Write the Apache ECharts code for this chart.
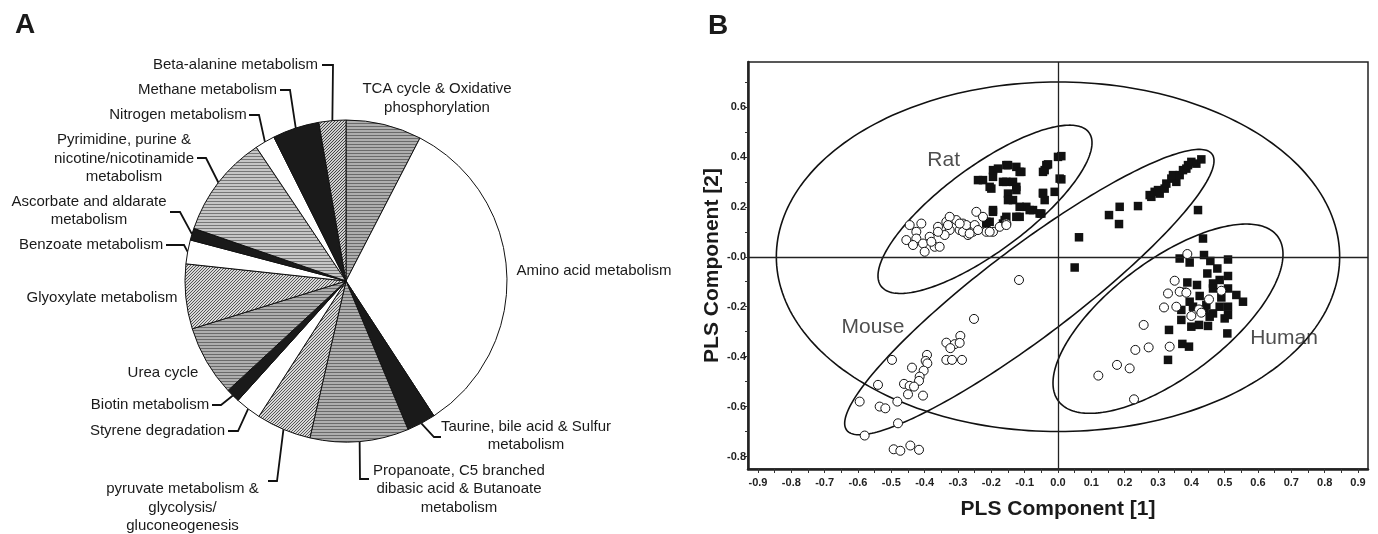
<!DOCTYPE html>
<html><head><meta charset="utf-8">
<script src="https://cdn.jsdelivr.net/npm/echarts@6/dist/echarts.min.js"></script>
<style>html,body{margin:0;padding:0;background:#fff}#c{width:1378px;height:534px}</style>
</head><body><div id="c"></div>
<script>
// ---------- Panel A: pie data (percent of pathways) ----------
const pieCategories = [
  'TCA cycle & Oxidative\nphosphorylation',
  'Amino acid metabolism',
  'Taurine, bile acid & Sulfur\nmetabolism',
  'Propanoate, C5 branched\ndibasic acid & Butanoate\nmetabolism',
  'pyruvate metabolism &\nglycolysis/\ngluconeogenesis',
  'Styrene degradation',
  'Biotin metabolism',
  'Urea cycle',
  'Glyoxylate metabolism',
  'Benzoate metabolism',
  'Ascorbate and aldarate\nmetabolism',
  'Pyrimidine, purine &\nnicotine/nicotinamide\nmetabolism',
  'Nitrogen metabolism',
  'Methane metabolism',
  'Beta-alanine metabolism'
];
const pieValues = [7.6, 33.2, 2.9, 9.9, 5.5, 2.6, 1.4, 7.1, 6.5, 2.4, 1.2, 10.3, 2.0, 4.7, 2.7];
const pieFills = ['hlines','white','black','hlines','hatch','white','black','hlines','hatch','white','black','hlines2','white','black','hatch2'];

// ---------- Panel B: PLS scores ----------
const ratOpen = [[-0.445,0.127],[-0.41,0.133],[-0.425,0.10],[-0.455,0.067],[-0.425,0.073],[-0.405,0.053],[-0.385,0.08],[-0.37,0.04],[-0.355,0.04],[-0.40,0.02],[-0.36,0.12],[-0.335,0.14],[-0.325,0.107],[-0.34,0.087],[-0.305,0.147],[-0.285,0.133],[-0.295,0.107],[-0.265,0.12],[-0.255,0.10],[-0.27,0.087],[-0.245,0.18],[-0.225,0.16],[-0.215,0.10],[-0.195,0.10],[-0.175,0.12],[-0.155,0.133],[-0.36,0.10],[-0.325,0.16],[-0.38,0.06],[-0.435,0.047],[-0.285,0.10],[-0.275,0.127],[-0.25,0.127],[-0.24,0.107],[-0.33,0.127],[-0.295,0.133],[-0.265,0.093],[-0.155,0.127],[-0.205,0.10]];
const mouseOpen = [[-0.117,-0.093],[-0.252,-0.249],[-0.335,-0.344],[-0.293,-0.317],[-0.31,-0.35],[-0.295,-0.345],[-0.323,-0.366],[-0.335,-0.413],[-0.318,-0.413],[-0.288,-0.413],[-0.393,-0.393],[-0.397,-0.417],[-0.392,-0.427],[-0.438,-0.444],[-0.403,-0.456],[-0.415,-0.48],[-0.417,-0.497],[-0.498,-0.413],[-0.54,-0.513],[-0.462,-0.509],[-0.445,-0.517],[-0.432,-0.52],[-0.45,-0.551],[-0.405,-0.556],[-0.482,-0.58],[-0.595,-0.58],[-0.535,-0.60],[-0.518,-0.607],[-0.48,-0.667],[-0.58,-0.716],[-0.493,-0.771],[-0.473,-0.777],[-0.443,-0.756],[-0.417,-0.773]];
const humanOpen = [[0.388,0.011],[0.35,-0.096],[0.33,-0.147],[0.365,-0.14],[0.385,-0.144],[0.318,-0.203],[0.355,-0.20],[0.40,-0.237],[0.423,-0.211],[0.43,-0.224],[0.453,-0.171],[0.49,-0.136],[0.257,-0.273],[0.232,-0.373],[0.272,-0.363],[0.335,-0.36],[0.177,-0.433],[0.215,-0.447],[0.121,-0.476],[0.228,-0.571]];
const ratFilled = [[-0.225,0.307],[-0.24,0.307],[-0.195,0.32],[-0.195,0.347],[-0.18,0.353],[-0.155,0.367],[-0.15,0.367],[-0.125,0.36],[-0.115,0.34],[-0.11,0.34],[-0.165,0.30],[-0.155,0.30],[-0.205,0.28],[-0.2,0.273],[-0.135,0.30],[-0.125,0.28],[-0.125,0.267],[-0.15,0.253],[-0.135,0.227],[-0.15,0.227],[-0.095,0.20],[-0.115,0.20],[-0.075,0.187],[-0.085,0.187],[-0.055,0.173],[-0.115,0.16],[-0.125,0.16],[-0.155,0.16],[-0.16,0.147],[-0.195,0.18],[-0.195,0.187],[-0.205,0.14],[-0.215,0.133],[-0.215,0.14],[-0.165,0.133],[-0.035,0.367],[-0.04,0.347],[-0.045,0.253],[-0.04,0.227],[0.0,0.40],[0.01,0.403],[0.005,0.313],[0.01,0.31],[-0.01,0.26],[-0.03,0.37],[-0.045,0.34],[-0.045,0.256],[-0.05,0.173]];
const mouseFilled = [[0.063,0.078],[0.153,0.167],[0.185,0.20],[0.183,0.131],[0.24,0.203],[0.275,0.247],[0.28,0.24],[0.29,0.26],[0.30,0.267],[0.305,0.253],[0.32,0.273],[0.325,0.293],[0.34,0.313],[0.355,0.30],[0.345,0.327],[0.365,0.327],[0.375,0.347],[0.385,0.353],[0.39,0.367],[0.40,0.38],[0.415,0.373],[0.43,0.39],[0.42,0.187],[0.435,0.073],[0.05,-0.043]];
const humanFilled = [[0.365,-0.007],[0.395,-0.023],[0.438,0.007],[0.457,-0.017],[0.51,-0.011],[0.448,-0.067],[0.478,-0.047],[0.51,-0.077],[0.485,-0.093],[0.465,-0.107],[0.388,-0.103],[0.417,-0.113],[0.373,-0.14],[0.465,-0.127],[0.51,-0.127],[0.535,-0.153],[0.555,-0.18],[0.425,-0.157],[0.395,-0.18],[0.37,-0.213],[0.37,-0.253],[0.40,-0.28],[0.423,-0.273],[0.45,-0.277],[0.465,-0.227],[0.445,-0.193],[0.485,-0.20],[0.51,-0.20],[0.50,-0.247],[0.51,-0.233],[0.333,-0.293],[0.508,-0.307],[0.373,-0.349],[0.393,-0.36],[0.33,-0.413],[0.44,-0.213],[0.455,-0.24],[0.405,-0.20],[0.49,-0.163]];

// confidence ellipses: [centerX, centerY, halfExtentX, halfExtentY, correlation]
const ellipses = [[0, 0, 0.845, 0.70, 0], [-0.219, 0.19, 0.321, 0.337, 0.79], [-0.086, -0.1415, 0.554, 0.5715, 0.92], [0.33, -0.248, 0.345, 0.379, 0.68]];
const groupNames = ['Rat', 'Mouse', 'Human'];
const groupLabelAt = [[-0.343, 0.387], [-0.555, -0.282], [0.678, -0.327]];

const xLabelValues = [-0.9,-0.8,-0.7,-0.6,-0.5,-0.4,-0.3,-0.2,-0.1,0,0.1,0.2,0.3,0.4,0.5,0.6,0.7,0.8,0.9];
const xTickValues = [-0.9,-0.85,-0.8,-0.75,-0.7,-0.65,-0.6,-0.55,-0.5,-0.45,-0.4,-0.35,-0.3,-0.25,-0.2,-0.15,-0.1,-0.05,0,0.05,0.1,0.15,0.2,0.25,0.3,0.35,0.4,0.45,0.5,0.55,0.6,0.65,0.7,0.75,0.8,0.85,0.9];
const yLabelValues = [-0.8,-0.6,-0.4,-0.2,0,0.2,0.4,0.6];
const yTickValues = [-0.8,-0.7,-0.6,-0.5,-0.4,-0.3,-0.2,-0.1,0,0.1,0.2,0.3,0.4,0.5,0.6,0.7];

// ---------- layout (pixels) for pie labels ----------
const pieLabelLayout = [
  {x:437, y:98.5},
  {x:594, y:271},
  {x:526, y:436, bend:[434,437], end:[441,437]},
  {x:459, y:489, bend:[360,479], end:[369,479]},
  {x:182.5, y:507.5, bend:[277,481], end:[268,481]},
  {x:157.5, y:431, bend:[238,431], end:[228,431]},
  {x:150, y:405, bend:[221,405], end:[212,405]},
  {x:163, y:373},
  {x:102, y:298},
  {x:91, y:245, bend:[184,245], end:[166,245]},
  {x:89, y:211, bend:[180,212], end:[170,212]},
  {x:124, y:158.5, bend:[206,158], end:[197,158]},
  {x:178, y:115, bend:[259,115], end:[249,115]},
  {x:207.5, y:90, bend:[290,90], end:[280,90]},
  {x:235.5, y:65, bend:[333,65], end:[322,65]}
];

function makePattern(kind) {
  const c = document.createElement('canvas');
  const g = c.getContext('2d');
  if (kind === 'hlines' || kind === 'hlines2') {
    c.width = 4; c.height = 3;
    g.fillStyle = kind === 'hlines' ? '#aeaeae' : '#c6c6c6'; g.fillRect(0,0,4,3);
    g.fillStyle = kind === 'hlines' ? '#6a6a6a' : '#777777'; g.fillRect(0,0,4,1);
  } else {
    const s = 3;
    c.width = s; c.height = s;
    g.fillStyle = kind === 'hatch' ? '#d8d8d8' : '#cfcfcf'; g.fillRect(0,0,s,s);
    g.strokeStyle = kind === 'hatch' ? '#555' : '#444'; g.lineWidth = 1;
    g.beginPath(); g.moveTo(-1, s+1); g.lineTo(s+1, -1); g.stroke();
    g.beginPath(); g.moveTo(-1, 1); g.lineTo(1, -1); g.stroke();
    g.beginPath(); g.moveTo(s-1, s+1); g.lineTo(s+1, s-1); g.stroke();
  }
  return {image: c, repeat: 'repeat'};
}
function fillOf(kind) {
  if (kind === 'white') return '#ffffff';
  if (kind === 'black') return '#1a1a1a';
  return makePattern(kind);
}

const FONT = 'Liberation Sans, Arial, Helvetica, sans-serif';
const chart = echarts.init(document.getElementById('c'), null, {renderer: 'canvas'});

const option = {
  animation: false,
  backgroundColor: '#ffffff',
  textStyle: {fontFamily: FONT},
  title: [
    {text: 'A', left: 10, top: 6, textStyle: {fontSize: 28, fontWeight: 'bold', color: '#1a1a1a', fontFamily: FONT}},
    {text: 'B', left: 703, top: 7, textStyle: {fontSize: 28, fontWeight: 'bold', color: '#1a1a1a', fontFamily: FONT}}
  ],
  grid: {left: 748, top: 62, width: 620, height: 407, show: true, borderColor: '#222', borderWidth: 1.5, backgroundColor: 'transparent'},
  xAxis: {
    type: 'value', min: -0.93, max: 0.93,
    name: 'PLS Component [1]', nameLocation: 'middle', nameGap: 30,
    nameTextStyle: {fontSize: 21, fontWeight: 'bold', color: '#1a1a1a', fontFamily: FONT},
    axisLine: {show: true, onZero: false, lineStyle: {color: '#222', width: 2.5}},
    axisTick: {show: true, customValues: xTickValues, length: 4, lineStyle: {color: '#333', width: 1}},
    axisLabel: {customValues: xLabelValues, margin: 8, fontSize: 11, fontWeight: 'bold', color: '#222', fontFamily: FONT,
      formatter: v => (Math.abs(v) < 1e-9 ? '0.0' : v.toFixed(1))},
    splitLine: {show: false}
  },
  yAxis: {
    type: 'value', min: -0.85, max: 0.78,
    name: 'PLS Component [2]', nameLocation: 'middle', nameGap: 25, nameRotate: 90,
    nameTextStyle: {fontSize: 21, fontWeight: 'bold', color: '#1a1a1a', fontFamily: FONT},
    axisLine: {show: true, onZero: false, lineStyle: {color: '#222', width: 2.5}},
    axisTick: {show: true, customValues: yTickValues, length: 3, lineStyle: {color: '#333', width: 1}},
    axisLabel: {customValues: yLabelValues, margin: 2, fontSize: 11, fontWeight: 'bold', color: '#222', fontFamily: FONT,
      formatter: v => (Math.abs(v) < 1e-9 ? '-0.0' : v.toFixed(1))},
    splitLine: {show: false}
  },
  series: [
    {
      type: 'pie', center: [346, 281], radius: 161, startAngle: 90, clockwise: true,
      avoidLabelOverlap: false, silent: true, z: 2,
      itemStyle: {borderColor: '#111', borderWidth: 1},
      label: {show: true, position: 'outside', formatter: '{b}', fontSize: 15, lineHeight: 18.5,
        color: '#1a1a1a', fontFamily: FONT, align: 'center'},
      labelLine: {show: true, lineStyle: {color: '#111', width: 1.8}},
      labelLayout: function (p) {
        const L = pieLabelLayout[p.dataIndex];
        const r = {x: L.x, y: L.y, align: 'center', verticalAlign: 'middle'};
        if (L.bend && p.labelLinePoints) r.labelLinePoints = [p.labelLinePoints[0], L.bend, L.end];
        return r;
      },
      emphasis: {disabled: true},
      data: pieCategories.map((n, i) => ({
        name: n, value: pieValues[i],
        itemStyle: {color: fillOf(pieFills[i])},
        labelLine: {show: !!pieLabelLayout[i].bend}
      }))
    },
    {
      type: 'custom', coordinateSystem: 'cartesian2d', silent: true, z: 3,
      data: ellipses, encode: {x: 0, y: 1},
      renderItem: function (params, api) {
        const cx = api.value(0), cy = api.value(1), rx = api.value(2), ry = api.value(3), rho = api.value(4);
        const s = Math.sqrt(1 - rho * rho);
        const pts = [];
        for (let k = 0; k <= 240; k++) {
          const t = 2 * Math.PI * k / 240;
          pts.push(api.coord([cx + rx * Math.cos(t), cy + ry * (rho * Math.cos(t) + s * Math.sin(t))]));
        }
        return {type: 'polygon', shape: {points: pts}, style: {fill: 'none', stroke: '#111', lineWidth: 1.6}};
      }
    },
    {
      type: 'scatter', name: 'filled', symbol: 'rect', symbolSize: 8.5, silent: true, z: 4,
      itemStyle: {color: '#111', opacity: 1},
      data: ratFilled.concat(mouseFilled, humanFilled),
      markLine: {silent: true, symbol: 'none', label: {show: false},
        lineStyle: {color: '#222', type: 'solid', width: 1.3},
        data: [{xAxis: 0}, {yAxis: 0}]}
    },
    {
      type: 'scatter', name: 'open', symbol: 'circle', symbolSize: 9, silent: true, z: 5,
      itemStyle: {color: '#ffffff', borderColor: '#111', borderWidth: 1, opacity: 1},
      data: ratOpen.concat(mouseOpen, humanOpen)
    },
    {
      type: 'scatter', symbolSize: 0, silent: true, z: 6,
      data: groupNames.map((n, i) => ({name: n, value: groupLabelAt[i]})),
      label: {show: true, position: 'inside', formatter: '{b}', fontSize: 21, color: '#222', fontFamily: FONT}
    }
  ]
};
chart.setOption(option);
</script>
</body></html>
